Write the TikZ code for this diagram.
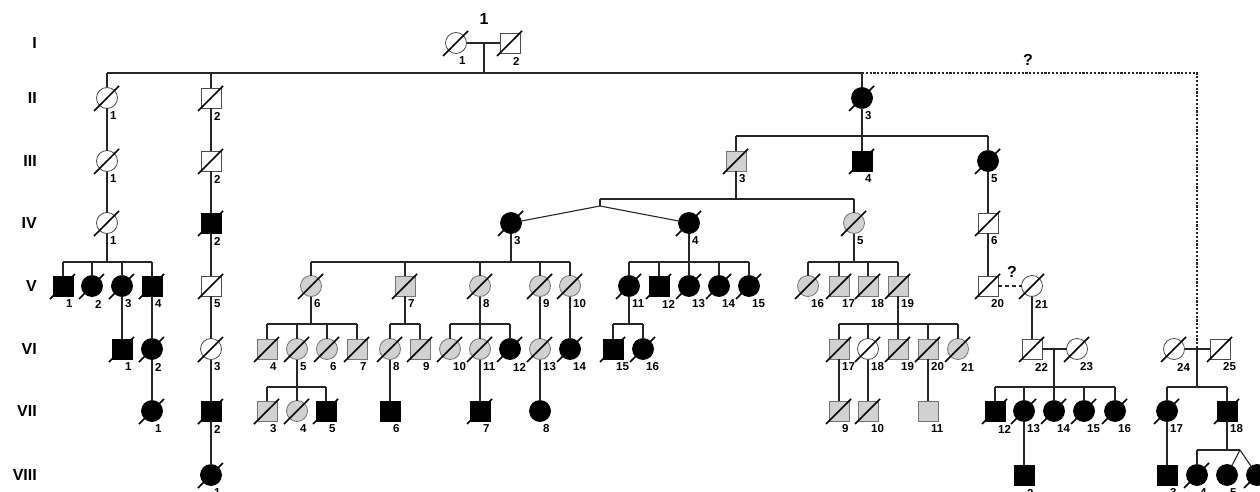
\documentclass[tikz,border=0pt]{standalone}
\usepackage{fontspec}
\setmainfont{Liberation Sans}
\newcommand{\pp}[5]{\node[#1] (#2) at (#3,#4) {};\node[numlab] (#2l) at ([shift={(3,18)}]#2.center) {#5};}
\newcommand{\pd}[5]{\pp{#1}{#2}{#3}{#4}{#5}\draw[slash] ([shift={(-13,13)}]#2.center) -- ([shift={(12,-12)}]#2.center);}
\newcommand{\sibship}[5]{%
  \coordinate (tmpS) at (0,#2);
  \draw[conn] (#1) -- (#1 |- tmpS);
  \draw[conn] (#3 |- tmpS) -- (#4 |- tmpS);
  \foreach \c in {#5} {\draw[conn] (\c |- tmpS) -- (\c);}
}
\begin{document}
\begin{tikzpicture}[x=1pt,y=-1pt,
  base/.style={inner sep=0pt, outer sep=0pt, line width=0.8pt},
  fc/.style={base, circle, minimum size=21pt, draw=black!70, fill=white},
  fg/.style={base, circle, minimum size=21pt, draw=black!55, fill=black!18},
  ff/.style={base, circle, minimum size=21pt, draw=black, fill=black},
  mc/.style={base, rectangle, minimum size=20pt, draw=black!70, fill=white},
  mg/.style={base, rectangle, minimum size=20pt, draw=black!55, fill=black!18},
  mf/.style={base, rectangle, minimum size=20pt, draw=black, fill=black},
  conn/.style={line width=1.1pt, draw=black!85},
  dotline/.style={line width=1.2pt, draw=black!85, dash pattern=on 2.2pt off 1.6pt},
  dashline/.style={line width=1.1pt, draw=black!85, dash pattern=on 4pt off 3pt},
  slash/.style={line width=1.7pt, draw=black},
  numlab/.style={font=\bfseries\fontsize{11.5}{13}\selectfont, anchor=west, inner sep=0pt},
  genlab/.style={font=\bfseries\fontsize{16}{18}\selectfont, anchor=east, inner sep=0pt},
  biglab/.style={font=\bfseries\fontsize{16}{18}\selectfont, inner sep=0pt},
]
\useasboundingbox (0,0) rectangle (1260,492);
\clip (0,0) rectangle (1260,492);
% generation labels
\node[genlab] (gI) at (37,43) {I};
\node[genlab] (gII) at (37,98) {II};
\node[genlab] (gIII) at (37,161) {III};
\node[genlab] (gIV) at (37,223) {IV};
\node[genlab] (gV) at (37,286) {V};
\node[genlab] (gVI) at (37,349) {VI};
\node[genlab] (gVII) at (37,411) {VII};
\node[genlab] (gVIII) at (37,475) {VIII};
% Gen I
\pd{fc}{a1}{456}{43}{1}
\pd{mc}{a2}{510}{43}{2}
\node[biglab] (fam) at (484,19) {1};
\draw[conn] (a1) -- (a2);
\coordinate (cpl1) at (484,43);
% Gen II
\pd{fc}{b1}{107}{98}{1}
\pd{mc}{b2}{211}{98}{2}
\pd{ff}{b3}{862}{98}{3}
\sibship{cpl1}{73}{b1}{b3}{b1,b2,b3}
\coordinate (s2) at (0,73);
\coordinate (cpl3) at (1197,349);
\draw[dotline] (b3 |- s2) -| (cpl3);
\node[biglab] (q1) at (1028,60) {?};
% Gen III
\pd{fc}{c1}{107}{161}{1}
\pd{mc}{c2}{211}{161}{2}
\pd{mg}{c3}{736}{161}{3}
\pd{mf}{c4}{862}{161}{4}
\pd{ff}{c5}{988}{161}{5}
\draw[conn] (b1) -- (c1);
\draw[conn] (b2) -- (c2);
\sibship{b3}{136}{c3}{c5}{c3,c4,c5}
% Gen IV
\pd{fc}{d1}{107}{223}{1}
\pd{mf}{d2}{211}{223}{2}
\pd{ff}{d3}{511}{223}{3}
\pd{ff}{d4}{689}{223}{4}
\pd{fg}{d5}{854}{223}{5}
\pd{mc}{d6}{988}{223}{6}
\draw[conn] (c1) -- (d1);
\draw[conn] (c2) -- (d2);
\draw[conn] (c5) -- (d6);
\coordinate (tw1) at (600,206);
\sibship{c3}{199}{tw1}{d5}{tw1,d5}
\draw[conn] (tw1) -- (d3);
\draw[conn] (tw1) -- (d4);
% Gen V
\pd{mf}{e1}{63}{286}{1}
\pd{ff}{e2}{92}{286}{2}
\pd{ff}{e3}{122}{286}{3}
\pd{mf}{e4}{152}{286}{4}
\sibship{d1}{262}{e1}{e4}{e1,e2,e3,e4}
\pd{mc}{e5}{211}{286}{5}
\draw[conn] (d2) -- (e5);
\pd{fg}{e6}{311}{286}{6}
\pd{mg}{e7}{405}{286}{7}
\pd{fg}{e8}{480}{286}{8}
\pd{fg}{e9}{540}{286}{9}
\pd{fg}{e10}{570}{286}{10}
\sibship{d3}{262}{e6}{e10}{e6,e7,e8,e9,e10}
\pd{ff}{e11}{629}{286}{11}
\pd{mf}{e12}{659}{286}{12}
\pd{ff}{e13}{689}{286}{13}
\pd{ff}{e14}{719}{286}{14}
\pd{ff}{e15}{749}{286}{15}
\sibship{d4}{262}{e11}{e15}{e11,e12,e13,e14,e15}
\pd{fg}{e16}{808}{286}{16}
\pd{mg}{e17}{839}{286}{17}
\pd{mg}{e18}{868}{286}{18}
\pd{mg}{e19}{898}{286}{19}
\sibship{d5}{262}{e16}{e19}{e16,e17,e18,e19}
\pd{mc}{e20}{988}{286}{20}
\pd{fc}{e21}{1032}{286}{21}
\draw[conn] (d6) -- (e20);
\draw[dashline] (e20) -- (e21);
\node[biglab] (q2) at (1012,272) {?};
% Gen VI
\pd{mf}{f1}{122}{349}{1}
\pd{ff}{f2}{152}{349}{2}
\pd{fc}{f3}{211}{349}{3}
\draw[conn] (e3) -- (f1);
\draw[conn] (e4) -- (f2);
\draw[conn] (e5) -- (f3);
\pd{mg}{f4}{267}{349}{4}
\pd{fg}{f5}{297}{349}{5}
\pd{fg}{f6}{327}{349}{6}
\pd{mg}{f7}{357}{349}{7}
\sibship{e6}{324}{f4}{f7}{f4,f5,f6,f7}
\pd{fg}{f8}{390}{349}{8}
\pd{mg}{f9}{420}{349}{9}
\sibship{e7}{324}{f8}{f9}{f8,f9}
\pd{fg}{f10}{450}{349}{10}
\pd{fg}{f11}{480}{349}{11}
\pd{ff}{f12}{510}{349}{12}
\sibship{e8}{324}{f10}{f12}{f10,f11,f12}
\pd{fg}{f13}{540}{349}{13}
\pd{ff}{f14}{570}{349}{14}
\draw[conn] (e9) -- (f13);
\draw[conn] (e10) -- (f14);
\pd{mf}{f15}{613}{349}{15}
\pd{ff}{f16}{643}{349}{16}
\sibship{e11}{324}{f15}{f16}{f15,f16}
\pd{mg}{f17}{839}{349}{17}
\pd{fc}{f18}{868}{349}{18}
\pd{mg}{f19}{898}{349}{19}
\pd{mg}{f20}{928}{349}{20}
\pd{fg}{f21}{958}{349}{21}
\sibship{e19}{324}{f17}{f21}{f17,f18,f19,f20,f21}
\pd{mc}{f22}{1032}{349}{22}
\pd{fc}{f23}{1077}{349}{23}
\draw[conn] (e21) -- (f22);
\draw[conn] (f22) -- (f23);
\coordinate (cpl2) at (1054,349);
\pd{fc}{f24}{1174}{349}{24}
\pd{mc}{f25}{1220}{349}{25}
\draw[conn] (f24) -- (f25);
% Gen VII
\pd{ff}{g1}{152}{411}{1}
\pd{mf}{g2}{211}{411}{2}
\draw[conn] (f2) -- (g1);
\draw[conn] (f3) -- (g2);
\pd{mg}{g3}{267}{411}{3}
\pd{fg}{g4}{297}{411}{4}
\pd{mf}{g5}{326}{411}{5}
\sibship{f5}{387}{g3}{g5}{g3,g4,g5}
\pp{mf}{g6}{390}{411}{6}
\pd{mf}{g7}{480}{411}{7}
\pp{ff}{g8}{540}{411}{8}
\draw[conn] (f8) -- (g6);
\draw[conn] (f11) -- (g7);
\draw[conn] (f13) -- (g8);
\pd{mg}{g9}{839}{411}{9}
\pd{mg}{g10}{868}{411}{10}
\pp{mg}{g11}{928}{411}{11}
\draw[conn] (f17) -- (g9);
\draw[conn] (f18) -- (g10);
\draw[conn] (f20) -- (g11);
\pd{mf}{g12}{995}{411}{12}
\pd{ff}{g13}{1024}{411}{13}
\pd{ff}{g14}{1054}{411}{14}
\pd{ff}{g15}{1084}{411}{15}
\pd{ff}{g16}{1115}{411}{16}
\sibship{cpl2}{387}{g12}{g16}{g12,g13,g14,g15,g16}
\pd{ff}{g17}{1167}{411}{17}
\pd{mf}{g18}{1227}{411}{18}
\sibship{cpl3}{387}{g17}{g18}{g17,g18}
% Gen VIII
\pd{ff}{h1}{211}{475}{1}
\draw[conn] (g2) -- (h1);
\pp{mf}{h2}{1024}{475}{2}
\draw[conn] (g13) -- (h2);
\pp{mf}{h3}{1167}{475}{3}
\draw[conn] (g17) -- (h3);
\pd{ff}{h4}{1197}{475}{4}
\pp{ff}{h5}{1227}{475}{5}
\pd{ff}{h6}{1257}{475}{6}
\coordinate (tw2) at (1240,450);
\sibship{g18}{450}{h4}{tw2}{h4}
\draw[conn] (tw2) -- (h5);
\draw[conn] (tw2) -- (h6);
\end{tikzpicture}
\end{document}
